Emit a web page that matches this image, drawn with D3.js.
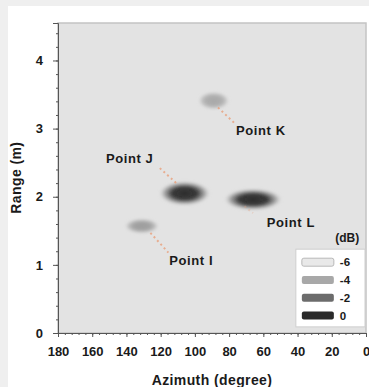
<!DOCTYPE html>
<html>
<head>
<meta charset="utf-8">
<script src="https://cdn.jsdelivr.net/npm/d3@7/dist/d3.min.js"></script>
<style>
  body { margin: 0; background: #efefef; }
  svg { display: block; }
  text { font-family: "Liberation Sans", Arial, sans-serif; font-weight: bold; fill: #1a1a1a; }
  .axis path, .axis line { stroke: #555; }
</style>
</head>
<body>
<div id="chart"></div>
<script>
// targets detected in the range / azimuth map
const targets  = ["Point I", "Point J", "Point K", "Point L"];
const azimuth  = [131, 106, 89, 66];      // degree
const range    = [1.57, 2.05, 3.41, 1.96]; // m
const peakDb   = [-3.6, 0, -4.0, 0];
const spreadAz = [20, 30, 18, 34];        // blob width, degree
const spreadR  = [0.22, 0.36, 0.26, 0.32]; // blob height, m

// label anchors (data units) and leader lines
const labelAz  = [115, 152, 76, 58];
const labelR   = [1.0, 2.5, 2.9, 1.55];
const leadFrom = [[126, 1.47], [120.5, 2.42], [86.5, 3.31], [71, 1.86]];
const leadTo   = [[115.5, 1.18], [110, 2.18], [76, 3.06], [66, 1.76]];

// colour legend (dB)
const dbLevels = [-6, -4, -2, 0];
const dbColors = ["#e9e9e9", "#a8a8a8", "#6c6c6c", "#2a2a2a"];

const xTicks = d3.range(0, 181, 20);
const yTicks = [0, 1, 2, 3, 4];

const W = 369, H = 387;
const margin = { top: 23, right: 3, bottom: 54, left: 58 };

const svg = d3.select("#chart").append("svg")
    .attr("width", W)
    .attr("height", H);

// white panel
svg.append("rect").attr("x", 8).attr("y", 6).attr("width", W).attr("height", H).attr("fill", "#fff");

const x = d3.scaleLinear().domain([180, 0]).range([margin.left, W - margin.right]);
const y = d3.scaleLinear().domain([0, 4.55]).range([H - margin.bottom, margin.top]);
const color = d3.scaleLinear().domain(dbLevels).range(dbColors);

const defs = svg.append("defs");
defs.append("filter").attr("id", "soft")
    .attr("x", "-50%").attr("y", "-50%").attr("width", "200%").attr("height", "200%")
  .append("feGaussianBlur").attr("stdDeviation", 1.4);

// plot background + border
svg.append("rect")
    .attr("x", x(180)).attr("y", y(4.55))
    .attr("width", x(0) - x(180)).attr("height", y(0) - y(4.55))
    .attr("fill", "#e3e3e3")
    .attr("stroke", "#c4c4c4")
    .attr("stroke-width", 1.5);

// blobs
targets.forEach((t, i) => {
  const c = color(peakDb[i]);
  const g = defs.append("radialGradient").attr("id", "g" + i);
  g.append("stop").attr("offset", "0%").attr("stop-color", c).attr("stop-opacity", 1);
  g.append("stop").attr("offset", "50%").attr("stop-color", c).attr("stop-opacity", 0.9);
  g.append("stop").attr("offset", "78%").attr("stop-color", d3.interpolateRgb(c, "#a0a0a0")(0.5)).attr("stop-opacity", 0.5);
  g.append("stop").attr("offset", "100%").attr("stop-color", "#c8c8c8").attr("stop-opacity", 0);
});

svg.append("g").selectAll("ellipse")
  .data(targets)
  .join("ellipse")
    .attr("cx", (d, i) => x(azimuth[i]))
    .attr("cy", (d, i) => y(range[i]))
    .attr("rx", (d, i) => Math.abs(x(azimuth[i] + spreadAz[i] / 2) - x(azimuth[i])))
    .attr("ry", (d, i) => Math.abs(y(range[i] + spreadR[i] / 2) - y(range[i])))
    .attr("fill", (d, i) => `url(#g${i})`)
    .attr("filter", "url(#soft)");

// leader lines
svg.append("g").selectAll("line")
  .data(targets)
  .join("line")
    .attr("x1", (d, i) => x(leadFrom[i][0]))
    .attr("y1", (d, i) => y(leadFrom[i][1]))
    .attr("x2", (d, i) => x(leadTo[i][0]))
    .attr("y2", (d, i) => y(leadTo[i][1]))
    .attr("stroke", "#e9a07c")
    .attr("stroke-width", 2)
    .attr("stroke-dasharray", "2,3")
    .attr("opacity", (d, i) => i === 3 ? 0.35 : 0.8);

// labels
svg.append("g").selectAll("text")
  .data(targets)
  .join("text")
    .attr("x", (d, i) => x(labelAz[i]))
    .attr("y", (d, i) => y(labelR[i]))
    .attr("font-size", 13)
    .attr("letter-spacing", 0.6)
    .text(d => d);

// axes
svg.append("g").attr("class", "axis")
    .attr("transform", `translate(0,${y(0)})`)
    .call(d3.axisBottom(x).tickValues(xTicks).tickSize(4).tickPadding(10));
svg.append("g").attr("class", "axis")
    .attr("transform", `translate(0,${y(0)})`)
    .call(d3.axisBottom(x).tickValues(d3.range(0, 181, 4)).tickSize(2).tickFormat(""))
    .select(".domain").remove();

svg.append("g").attr("class", "axis")
    .attr("transform", `translate(${x(180)},0)`)
    .call(d3.axisLeft(y).tickValues(yTicks).tickFormat(d3.format("d")).tickSize(5).tickPadding(10));
svg.append("g").attr("class", "axis")
    .attr("transform", `translate(${x(180)},0)`)
    .call(d3.axisLeft(y).tickValues(d3.range(0, 4.55, 0.2)).tickSize(2).tickFormat(""))
    .select(".domain").remove();

svg.selectAll(".axis .domain").attr("stroke", "#666");
svg.selectAll(".axis text").attr("font-size", 13).attr("font-family", "Liberation Sans, Arial, sans-serif").attr("fill", "#1a1a1a");

// axis titles
svg.append("text")
    .attr("x", x(90)).attr("y", 385)
    .attr("text-anchor", "middle")
    .attr("font-size", 14)
    .attr("letter-spacing", 0.4)
    .text("Azimuth (degree)");
svg.append("text")
    .attr("transform", `translate(21,${y(2.28)}) rotate(-90)`)
    .attr("text-anchor", "middle")
    .attr("font-size", 14)
    .attr("letter-spacing", 0.4)
    .text("Range (m)");

// legend
const lx = x(41), ly = y(1.23);
svg.append("text")
    .attr("x", x(11)).attr("y", y(1.33))
    .attr("text-anchor", "middle")
    .attr("font-size", 12)
    .text("(dB)");
const leg = svg.append("g");
leg.append("rect")
    .attr("x", lx).attr("y", ly)
    .attr("width", x(0) - 1 - lx).attr("height", y(0.09) - ly)
    .attr("fill", "#fff").attr("stroke", "#cfcfcf");
const item = leg.selectAll("g")
  .data(dbLevels)
  .join("g")
    .attr("transform", (d, i) => `translate(${lx + 6},${ly + 9 + i * 17.8})`);
item.append("rect")
    .attr("width", 32).attr("height", 8).attr("rx", 2)
    .attr("fill", d => color(d))
    .attr("stroke", (d, i) => i === 0 ? "#b8b8b8" : "none");
item.append("text")
    .attr("x", 38).attr("y", 8)
    .attr("font-size", 11.5)
    .text(d => d);
</script>
</body>
</html>
